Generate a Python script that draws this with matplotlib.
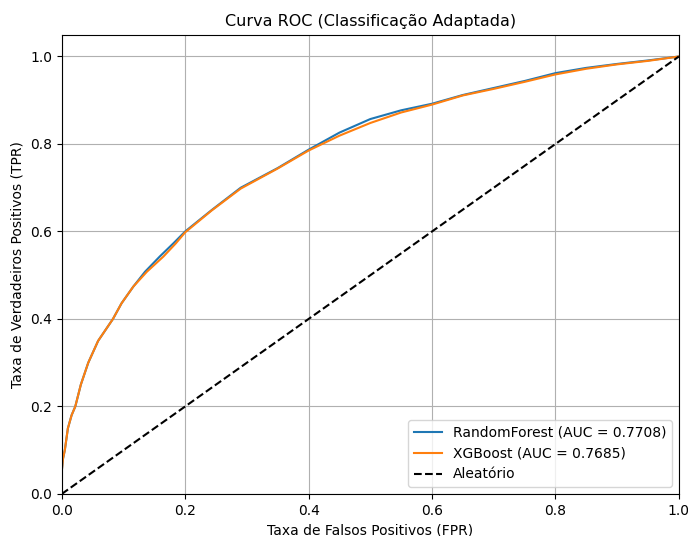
import matplotlib
matplotlib.use("Agg")
import matplotlib.pyplot as plt

rf_fpr = [0.0, 0.0, 0.002, 0.005, 0.010, 0.016, 0.022, 0.031, 0.043, 0.059, 0.083, 0.097, 0.116, 0.135, 0.159, 0.181,
          0.200, 0.243, 0.290, 0.350, 0.400, 0.450, 0.500, 0.550, 0.600, 0.650, 0.700, 0.750, 0.800, 0.850, 0.900, 0.950, 1.0]
rf_tpr = [0.0, 0.05, 0.08, 0.10, 0.15, 0.18, 0.20, 0.25, 0.30, 0.35, 0.40, 0.436, 0.474, 0.508, 0.543, 0.573,
          0.600, 0.649, 0.700, 0.745, 0.787, 0.826, 0.857, 0.877, 0.892, 0.912, 0.928, 0.944, 0.962, 0.974, 0.983, 0.991, 1.0]

xgb_fpr = [0.0, 0.0, 0.002, 0.005, 0.010, 0.016, 0.022, 0.031, 0.043, 0.059, 0.083, 0.097, 0.116, 0.138, 0.165, 0.185,
           0.200, 0.243, 0.290, 0.350, 0.400, 0.450, 0.500, 0.550, 0.600, 0.650, 0.700, 0.750, 0.800, 0.850, 0.900, 0.950, 1.0]
xgb_tpr = [0.0, 0.05, 0.08, 0.10, 0.15, 0.18, 0.20, 0.25, 0.30, 0.35, 0.40, 0.436, 0.474, 0.508, 0.543, 0.573,
           0.598, 0.648, 0.698, 0.744, 0.785, 0.819, 0.848, 0.872, 0.890, 0.911, 0.926, 0.942, 0.959, 0.972, 0.982, 0.990, 1.0]

labels = ["RandomForest (AUC = 0.7708)", "XGBoost (AUC = 0.7685)", "Aleatório"]

fig = plt.figure(figsize=(6.88, 5.36), dpi=100)
ax = fig.add_axes([0.0897, 0.0784, 0.897, 0.857])
ax.plot(rf_fpr, rf_tpr, color="#1f77b4", lw=1.5, label=labels[0])
ax.plot(xgb_fpr, xgb_tpr, color="#ff7f0e", lw=1.5, label=labels[1])
ax.plot([0, 1], [0, 1], "k--", lw=1.5, label=labels[2])
ax.set_xlim(0, 1)
ax.set_ylim(0, 1.05)
ax.set_xticks([0, 0.2, 0.4, 0.6, 0.8, 1.0])
ax.set_yticks([0, 0.2, 0.4, 0.6, 0.8, 1.0])
ax.tick_params(labelsize=10)
ax.set_xlabel("Taxa de Falsos Positivos (FPR)", fontsize=10)
ax.set_ylabel("Taxa de Verdadeiros Positivos (TPR)", fontsize=10)
ax.set_title("Curva ROC (Classificação Adaptada)", fontsize=11.5)
ax.grid(True)
ax.legend(loc="lower right", fontsize=10)
fig.savefig("out.png", dpi=100)
